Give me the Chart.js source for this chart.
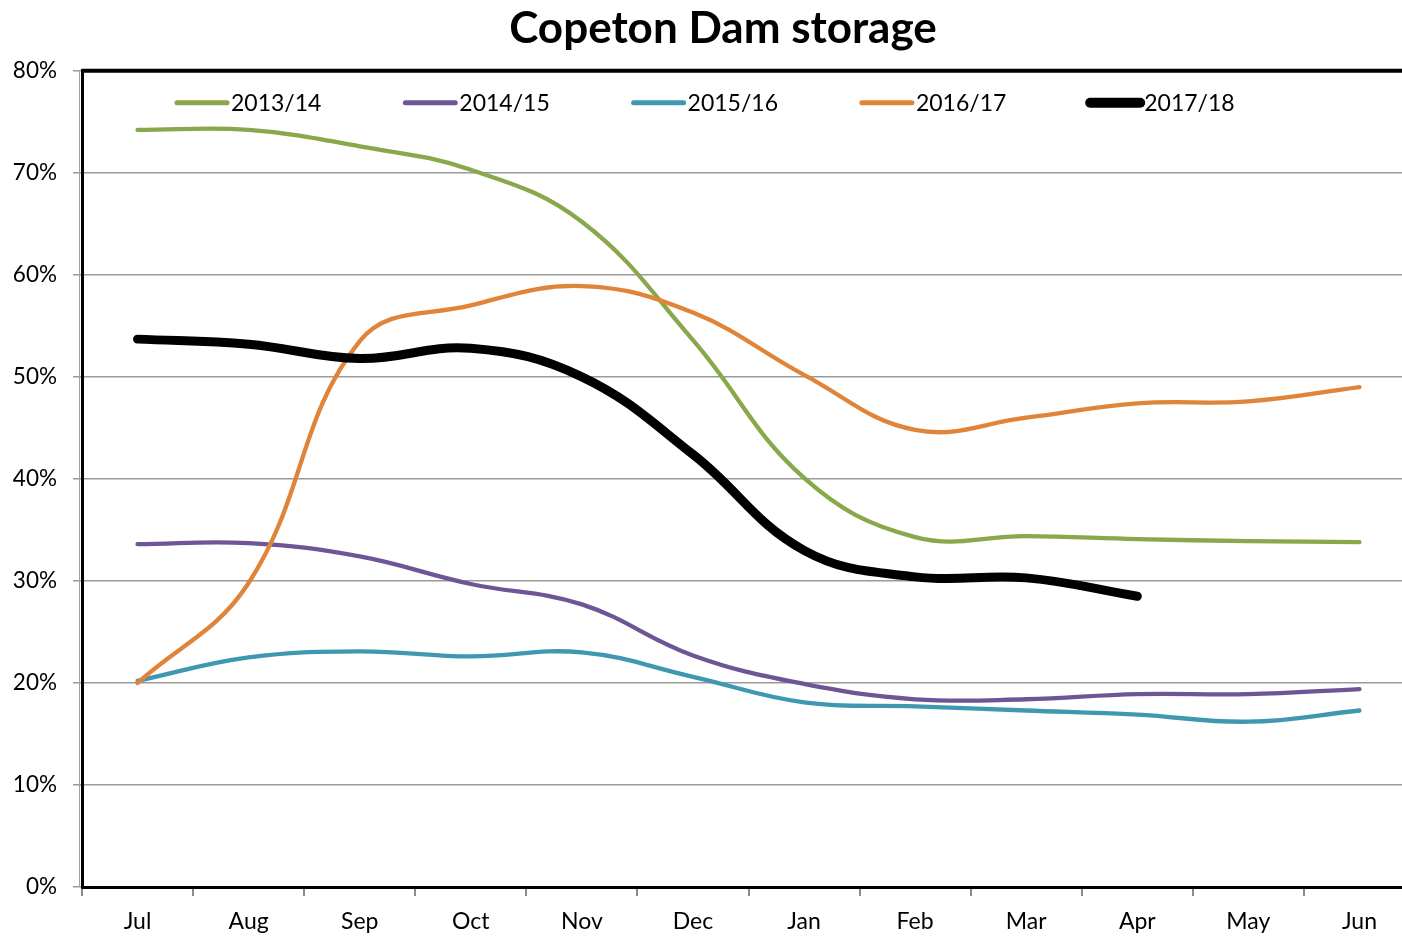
<!DOCTYPE html>
<html>
<head>
<meta charset="utf-8">
<script src="https://cdn.jsdelivr.net/npm/chart.js@4/dist/chart.umd.min.js"></script>
<style>
  html, body { margin: 0; padding: 0; background: #fff; overflow: hidden; }
  #wrap { width: 1446px; height: 936px; }
</style>
</head>
<body>
<div id="wrap"><canvas id="myChart"></canvas></div>
<script>
const months = ['Jul', 'Aug', 'Sep', 'Oct', 'Nov', 'Dec', 'Jan', 'Feb', 'Mar', 'Apr', 'May', 'Jun'];
const seasons = ['2013/14', '2014/15', '2015/16', '2016/17', '2017/18'];

// storage, % full, start of each month
const storage1314 = [74.2, 74.2, 72.6, 70.3, 65.2, 53.6, 40.1, 34.3, 34.4, 34.1, 33.9, 33.8];
const storage1415 = [33.6, 33.7, 32.4, 29.7, 27.7, 22.7, 19.9, 18.4, 18.4, 18.9, 18.9, 19.4];
const storage1516 = [20.2, 22.5, 23.1, 22.6, 23.0, 20.6, 18.1, 17.7, 17.3, 16.9, 16.2, 17.3];
const storage1617 = [20.0, 29.8, 53.5, 57.0, 58.9, 56.3, 50.2, 44.8, 46.0, 47.4, 47.6, 49.0];
const storage1718 = [53.7, 53.2, 51.8, 52.8, 50.0, 42.4, 33.0, 30.4, 30.3, 28.5];

const seasonColors = ['#88a84b', '#6e5696', '#3f98b0', '#e0843a', '#000000'];

const chartFont = 'Lato, "Open Sans", sans-serif';

// legend drawn inside the plot + heavy top border
const plotExtras = {
  id: 'plotExtras',
  afterDatasetsDraw(chart) {
    const { ctx, chartArea } = chart;
    ctx.save();
    ctx.strokeStyle = '#000';
    ctx.lineWidth = 4;
    ctx.beginPath();
    ctx.moveTo(chartArea.left, chartArea.top);
    ctx.lineTo(chartArea.right, chartArea.top);
    ctx.stroke();

    // light grey edge alongside the y axis
    ctx.strokeStyle = '#a0a0a0';
    ctx.lineWidth = 1;
    ctx.beginPath();
    ctx.moveTo(chartArea.left - 2.5, chartArea.top);
    ctx.lineTo(chartArea.left - 2.5, chartArea.bottom);
    ctx.stroke();

    chart.data.datasets.forEach((ds, i) => {
      const x = chartArea.left + 92 + i * 228.3;
      const y = chartArea.top + 32;
      ctx.strokeStyle = ds.borderColor;
      ctx.lineWidth = ds.borderWidth > 5 ? 10 : 5;
      ctx.lineCap = 'round';
      ctx.beginPath();
      ctx.moveTo(x + 3, y);
      ctx.lineTo(x + 53, y);
      ctx.stroke();
      ctx.fillStyle = '#000';
      ctx.font = '23px ' + chartFont;
      ctx.textBaseline = 'middle';
      ctx.fillText(ds.label, x + 57, y + 1);
    });
    ctx.restore();
  }
};

let chartCanvas = document.getElementById('myChart');
const allStorage = [storage1314, storage1415, storage1516, storage1617, storage1718];

new Chart(chartCanvas, {
  type: 'line',
  data: {
    labels: months,
    datasets: seasons.map((s, i) => ({
      label: s,
      data: allStorage[i],
      borderColor: seasonColors[i],
      backgroundColor: seasonColors[i],
      borderWidth: i === 4 ? 9 : 4.3,
      pointRadius: 0,
      tension: 0.4,
      borderCapStyle: 'round',
      order: i === 4 ? 0 : 5 - i
    }))
  },
  options: {
    responsive: true,
    maintainAspectRatio: false,
    animation: false,
    layout: { padding: 0 },
    plugins: {
      legend: { display: false },
      tooltip: { enabled: false },
      title: {
        display: true,
        text: 'Copeton Dam storage',
        color: '#000',
        font: { family: chartFont, size: 44, weight: 'bold' },
        padding: { top: 2, bottom: 16 }
      }
    },
    scales: {
      x: {
        offset: true,
        grid: {
          offset: true,
          drawOnChartArea: false,
          tickLength: 9,
          color: '#8c8c8c',
          lineWidth: 2
        },
        border: { color: '#000', width: 3 },
        ticks: {
          color: '#000',
          padding: 12,
          maxRotation: 0,
          font: { family: chartFont, size: 23 }
        },
        afterFit(scale) { scale.height = 49; }
      },
      y: {
        min: 0,
        max: 80,
        ticks: {
          stepSize: 10,
          color: '#000',
          padding: 16,
          font: { family: chartFont, size: 22.5 },
          callback: v => v + '%'
        },
        grid: { color: '#9a9a9a', lineWidth: 1.5, tickLength: 9 },
        border: { color: '#000', width: 3 },
        afterFit(scale) { scale.width = 82; }
      },
      // empty right-hand spacer so the plot runs past the page edge
      spacer: {
        position: 'right',
        grid: { display: false },
        border: { display: false },
        ticks: { display: false },
        afterFit(scale) { scale.width = 31; }
      }
    }
  },
  plugins: [plotExtras]
});
</script>
</body>
</html>
